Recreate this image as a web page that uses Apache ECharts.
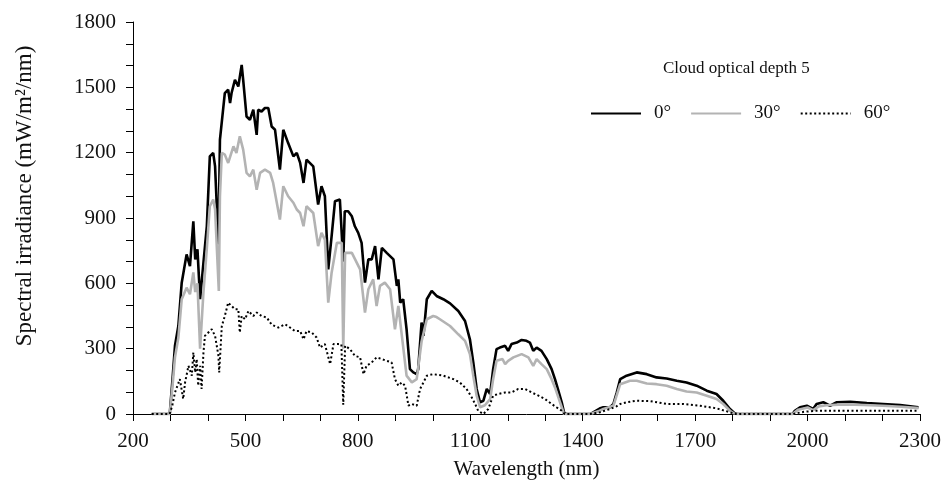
<!DOCTYPE html>
<html>
<head>
<meta charset="utf-8">
<script src="https://cdn.jsdelivr.net/npm/echarts@6/dist/echarts.min.js"></script>
<style>
  html, body { margin: 0; padding: 0; background: #fff; }
  #chart { width: 945px; height: 485px; }
</style>
</head>
<body>
<div id="chart"></div>
<script>
// Spectral irradiance under a cloud of optical depth 5, for three solar zenith angles.
const seriesNames = ['0°', '30°', '60°'];

// Zenith 0°
const wl0 = [250,298,305,312,321,330,343,352,361,366,372,379,388,397,405,414,419,428,432,445,454,459,463,472,481,490,494,503,512,521,530,534,543,552,561,570,579,592,601,614,628,637,646,655,663,681,694,703,712,721,730,739,752,757,761,765,774,784,792,801,810,819,828,837,846,855,864,877,886,895,904,908,913,921,930,939,948,957,961,970,975,984,997,1010,1028,1046,1068,1086,1099,1108,1117,1126,1135,1144,1153,1161,1170,1179,1193,1201,1210,1224,1237,1250,1259,1268,1277,1290,1304,1317,1326,1335,1344,1350,1356,1420,1428,1445,1455,1473,1482,1491,1500,1517,1544,1571,1597,1624,1651,1677,1704,1731,1757,1775,1793,1806,1812,1960,1966,1980,1998,2015,2024,2042,2060,2078,2114,2158,2202,2247,2296];
const irr0 = [0,0,150,313,404,603,733,679,885,710,756,527,695,862,1183,1199,1137,779,1260,1473,1489,1428,1474,1534,1504,1603,1534,1366,1351,1397,1282,1397,1389,1405,1405,1320,1305,1122,1305,1244,1183,1199,1153,1061,1168,1137,962,1046,1000,664,817,977,985,977,700,931,931,908,862,832,786,603,710,710,771,618,763,740,725,710,588,618,511,527,389,206,191,183,206,420,359,527,565,542,527,508,473,427,343,237,115,54,61,115,92,206,298,305,313,290,321,328,340,336,328,290,305,290,252,206,160,107,54,8,0,0,8,25,31,31,46,99,160,176,191,183,168,163,153,145,130,107,92,61,23,3,0,0,15,31,38,23,46,54,38,54,56,50,46,41,31];

// Zenith 30°
const wl30 = [250,298,305,312,321,330,343,352,361,366,372,379,388,397,405,414,419,429,432,437,445,454,468,476,485,490,494,503,512,521,530,539,552,566,574,592,601,614,628,637,646,655,663,681,694,703,712,721,730,744,757,761,766,784,806,819,828,841,850,859,872,886,899,908,917,930,944,957,970,984,1001,1010,1019,1046,1068,1086,1099,1108,1117,1126,1139,1153,1161,1170,1186,1193,1201,1215,1237,1255,1268,1277,1290,1304,1317,1326,1335,1344,1350,1420,1445,1455,1482,1500,1526,1544,1571,1597,1624,1651,1677,1704,1731,1757,1775,1793,1806,1960,1975,2000,2015,2030,2050,2100,2150,2200,2250,2296];
const irr30 = [0,0,120,260,350,527,580,550,650,560,600,300,560,760,954,985,940,565,1000,1199,1191,1153,1229,1199,1275,1282,1214,1107,1091,1122,1030,1107,1122,1107,1061,893,1046,1000,970,939,923,862,954,923,771,832,801,511,649,786,786,300,740,740,664,466,573,618,496,588,603,573,389,496,366,176,145,160,333,435,450,445,435,404,366,336,275,176,84,31,40,69,160,244,252,229,244,260,275,260,221,252,229,206,160,122,76,31,0,0,15,23,38,137,153,153,140,137,130,115,103,99,84,69,46,15,0,0,20,30,18,35,40,44,41,38,33,27];

// Zenith 60°
const wl60 = [250,298,305,312,325,334,339,348,357,361,366,370,374,379,383,388,392,401,410,419,428,430,437,445,454,463,472,481,485,490,499,508,521,530,543,557,570,588,606,619,632,646,655,663,677,690,699,712,726,735,748,756,761,766,779,792,806,815,823,837,850,864,877,890,899,908,917,926,935,944,957,966,975,984,1001,1028,1055,1072,1090,1104,1113,1121,1135,1148,1161,1175,1193,1210,1228,1246,1264,1282,1299,1317,1330,1344,1352,1420,1446,1473,1490,1500,1517,1544,1580,1624,1668,1713,1757,1793,1806,1960,1990,2024,2114,2200,2296];
const irr60 = [0,0,40,99,160,69,145,221,176,282,191,252,130,221,115,282,359,374,389,359,267,191,404,450,511,496,481,481,374,450,435,473,450,466,450,443,410,397,412,397,381,381,343,381,374,351,305,321,229,321,321,320,43,313,298,267,260,183,221,237,260,252,244,237,160,130,145,130,38,46,38,115,145,176,183,176,160,145,115,76,46,15,0,23,84,92,99,99,115,115,99,84,69,46,31,15,0,0,8,23,35,46,54,61,59,46,46,38,26,8,0,0,10,15,15,15,15];

// Axis tick positions and labels
const xTickValues = [200,300,400,500,600,700,800,900,1000,1100,1200,1300,1400,1500,1600,1700,1800,1900,2000,2100,2200,2300];
const xTickLabels = [200,500,800,1100,1400,1700,2000,2300];
const yTickValues = [0,100,200,300,400,500,600,700,800,900,1000,1100,1200,1300,1400,1500,1600,1700,1800];
const yTickLabels = [0,300,600,900,1200,1500,1800];

const zip = (xs, ys) => xs.map((x, i) => [x, ys[i]]);
const plain = v => String(v);

const serif = 'Liberation Serif';
const chart = echarts.init(document.getElementById('chart'), null, { renderer: 'canvas' });

chart.setOption({
  animation: false,
  backgroundColor: '#fff',
  grid: { left: 133, right: 25, top: 22, bottom: 70, containLabel: false },
  title: {
    text: 'Cloud optical depth 5',
    left: 658, top: 55,
    textStyle: { fontFamily: serif, fontSize: 17, fontWeight: 'normal', color: '#111' }
  },
  legend: {
    data: seriesNames,
    left: 585, top: 99,
    itemWidth: 50, itemHeight: 14, itemGap: 19,
    itemStyle: { opacity: 0 },
    lineStyle: { opacity: 1 },
    textStyle: { fontFamily: serif, fontSize: 19, color: '#111', padding: [0, 0, 0, 8] }
  },
  xAxis: {
    type: 'value', min: 200, max: 2300,
    name: 'Wavelength (nm)', nameLocation: 'middle', nameGap: 45,
    nameTextStyle: { fontFamily: serif, fontSize: 21, color: '#111' },
    axisLine: { show: true, lineStyle: { color: '#000', width: 1 } },
    axisTick: { show: true, length: 7, customValues: xTickValues, lineStyle: { color: '#000' } },
    axisLabel: { customValues: xTickLabels, formatter: plain, margin: 17, fontFamily: serif, fontSize: 21, color: '#111' },
    splitLine: { show: false }
  },
  yAxis: {
    type: 'value', min: 0, max: 1800,
    axisLine: { show: true, lineStyle: { color: '#000', width: 1 } },
    axisTick: { show: true, length: 7, customValues: yTickValues, lineStyle: { color: '#000' } },
    axisLabel: { customValues: yTickLabels, formatter: plain, margin: 17, fontFamily: serif, fontSize: 21, color: '#111' },
    splitLine: { show: false }
  },
  graphic: [{
    type: 'text',
    x: 25, y: 196,
    rotation: Math.PI / 2,
    style: {
      text: 'Spectral irradiance (mW/m²/nm)',
      font: '23px "Liberation Serif"',
      fill: '#111',
      textAlign: 'center', textVerticalAlign: 'middle'
    }
  }],
  series: [
    { name: '0°', type: 'line', data: zip(wl0, irr0), showSymbol: false, symbol: 'none',
      lineStyle: { color: '#000', width: 2.6 }, itemStyle: { color: '#000' }, z: 3 },
    { name: '30°', type: 'line', data: zip(wl30, irr30), showSymbol: false, symbol: 'none',
      lineStyle: { color: '#b3b3b3', width: 2.6 }, itemStyle: { color: '#b3b3b3' }, z: 4 },
    { name: '60°', type: 'line', data: zip(wl60, irr60), showSymbol: false, symbol: 'none',
      lineStyle: { color: '#000', width: 2, type: [2, 2.5] }, itemStyle: { color: '#000' }, z: 5 }
  ]
});
</script>
</body>
</html>
